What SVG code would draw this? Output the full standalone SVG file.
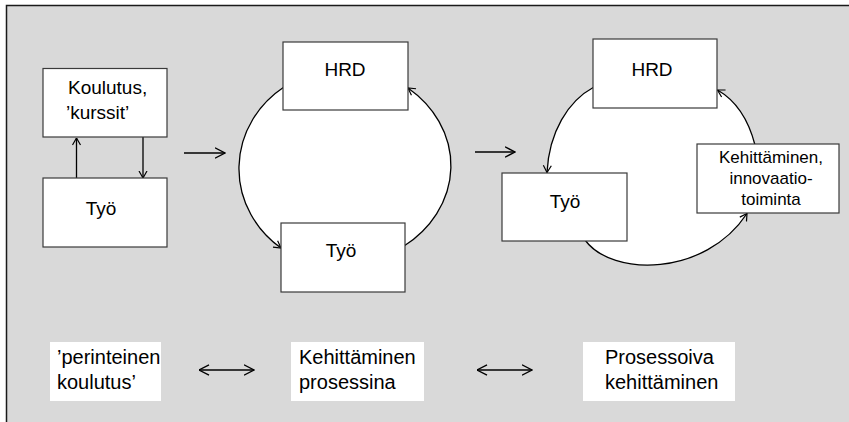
<svg xmlns="http://www.w3.org/2000/svg" width="849" height="422" viewBox="0 0 849 422">
<style>
.box{fill:#fff;stroke:#3a3a3a;stroke-width:1.2}
.plain{fill:#fff;stroke:none}
.t{font-family:"Liberation Sans",Arial,sans-serif;font-size:19px;fill:#000}
.tb{font-family:"Liberation Sans",Arial,sans-serif;font-size:20px;fill:#000}
.ts{font-family:"Liberation Sans",Arial,sans-serif;font-size:17px;fill:#000}
.c{fill:none;stroke:#000;stroke-width:1.3}
.cb{fill:none;stroke:#000;stroke-width:1.6}
</style>
<defs>
<marker id="sm" viewBox="0 0 8 10" refX="7.5" refY="5" markerWidth="8" markerHeight="10" markerUnits="userSpaceOnUse" orient="auto-start-reverse">
<path d="M0.5,1 L7.5,5 L0.5,9" fill="none" stroke="#000" stroke-width="1.2"/>
</marker>
<marker id="bg" viewBox="0 0 11 12" refX="10.5" refY="6" markerWidth="11" markerHeight="12" markerUnits="userSpaceOnUse" orient="auto-start-reverse">
<path d="M0.5,0.8 L10.5,6 L0.5,11.2" fill="none" stroke="#000" stroke-width="1.4"/>
</marker>
</defs>
<rect x="0" y="0" width="849" height="422" fill="#fff"/>
<rect x="6.5" y="5.5" width="843" height="417" fill="#d9d9d9"/>
<path d="M6.5,422 L6.5,5.5 L849,5.5" fill="none" stroke="#1a1a1a" stroke-width="1.5"/>

<!-- white interiors of cycles -->
<path class="plain" d="M284,87 A107,100 0 0 0 281,248 L404,246 A116,100 0 0 0 408,88 Z"/>
<path class="plain" d="M594,87 C568,101 549,132 547,172 L547,200 L585,240 C612,277 705,277 747,213 L755,180 L755,145 C748,118 735,100 718,90 L716,90 L716,60 L594,60 Z"/>

<g id="connectors">
<line class="c" x1="76.5" y1="178" x2="76.5" y2="138" marker-end="url(#sm)"/>
<line class="c" x1="143" y1="137" x2="143" y2="178" marker-end="url(#sm)"/>
<line class="cb" x1="184" y1="153" x2="225" y2="153" marker-end="url(#bg)"/>
<line class="cb" x1="475" y1="152" x2="515" y2="152" marker-end="url(#bg)"/>
<path class="c" d="M284,87 A107,100 0 0 0 281,248" marker-end="url(#sm)"/>
<path class="c" d="M404,246 A116,100 0 0 0 408,88" marker-end="url(#sm)"/>
<path class="c" d="M594,87 C568,101 549,132 547,172.5" marker-end="url(#sm)"/>
<path class="c" d="M585,240 C612,277 705,277 747,213.5" marker-end="url(#sm)"/>
<path class="c" d="M755,145 C748,118 735,100 717.5,90" marker-end="url(#sm)"/>
<line class="cb" x1="199" y1="370" x2="254" y2="370" marker-start="url(#bg)" marker-end="url(#bg)"/>
<line class="cb" x1="477" y1="370" x2="532" y2="370" marker-start="url(#bg)" marker-end="url(#bg)"/>
</g>

<g id="koulutus">
<rect class="box" x="43" y="68.5" width="124" height="68.5"/>
<text class="t" x="68" y="94">Koulutus,</text>
<text class="t" x="66" y="119">’kurssit’</text>
</g>
<g id="tyo1">
<rect class="box" x="43" y="178" width="124" height="69"/>
<text class="t" x="101" y="215" text-anchor="middle">Työ</text>
</g>
<g id="hrd2">
<rect class="box" x="283" y="42" width="125" height="68"/>
<text class="t" x="345" y="76" text-anchor="middle">HRD</text>
</g>
<g id="tyo2">
<rect class="box" x="281" y="223" width="124" height="69"/>
<text class="t" x="341" y="257" text-anchor="middle">Työ</text>
</g>
<g id="hrd3">
<rect class="box" x="593" y="39" width="124" height="69"/>
<text class="t" x="652" y="76" text-anchor="middle">HRD</text>
</g>
<g id="tyo3">
<rect class="box" x="502" y="173" width="125" height="68"/>
<text class="t" x="565" y="208" text-anchor="middle">Työ</text>
</g>
<g id="kehittaminen">
<rect class="box" x="697" y="144" width="142" height="69"/>
<text class="ts" x="771" y="163" text-anchor="middle">Kehittäminen,</text>
<text class="ts" x="771" y="184" text-anchor="middle">innovaatio-</text>
<text class="ts" x="771" y="205" text-anchor="middle">toiminta</text>
</g>

<g id="label1">
<rect class="plain" x="50" y="342" width="111" height="59"/>
<text class="tb" x="57" y="364">’perinteinen</text>
<text class="tb" x="57" y="389">koulutus’</text>
</g>
<g id="label2">
<rect class="plain" x="291" y="342" width="133" height="59"/>
<text class="tb" x="299" y="364">Kehittäminen</text>
<text class="tb" x="299" y="389">prosessina</text>
</g>
<g id="label3">
<rect class="plain" x="583" y="342" width="152" height="59"/>
<text class="tb" x="605" y="364">Prosessoiva</text>
<text class="tb" x="605" y="389">kehittäminen</text>
</g>
</svg>
